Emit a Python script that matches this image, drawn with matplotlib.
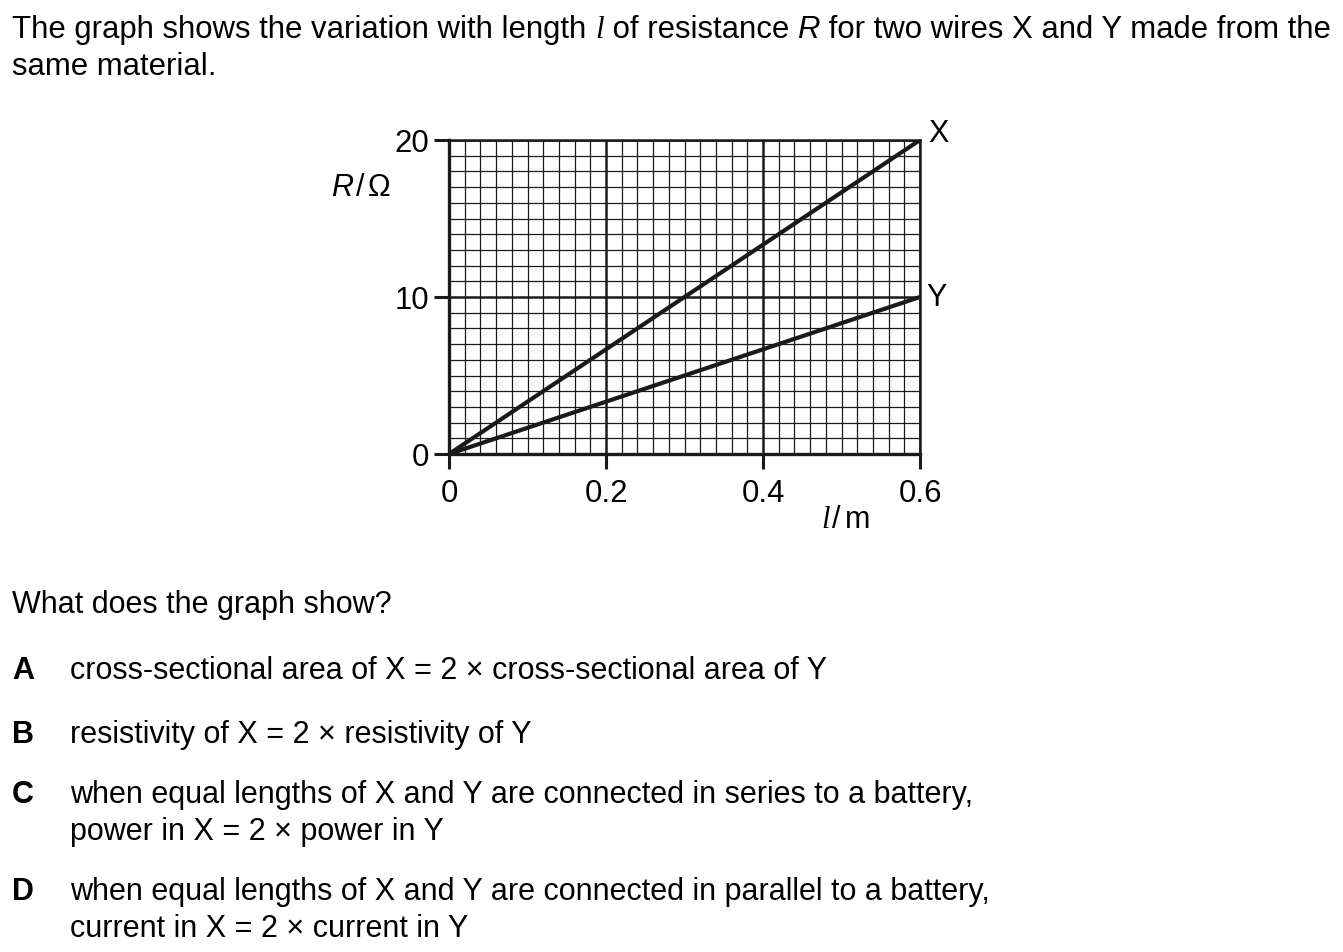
import numpy as np
import matplotlib.pyplot as plt
from matplotlib.ticker import MultipleLocator

# wire data: length l (m) and resistance R (ohm)
length = [0.0, 0.6]
r_x = [0.0, 20.0]
r_y = [0.0, 10.0]
xticks = [0, 0.2, 0.4, 0.6]
xtick_labels = ['0', '0.2', '0.4', '0.6']
yticks = [0, 10, 20]

W, H = 1343, 952
FS = 22
plt.rcParams['font.family'] = ['Liberation Sans', 'DejaVu Sans']
fig = plt.figure(figsize=(W/100, H/100), dpi=100)
ax = fig.add_axes([449/W, 1-454/H, 471/W, 314/H])

ax.plot(length, r_x, color='#1a1a1a', lw=3, solid_capstyle='butt', zorder=5)
ax.plot(length, r_y, color='#1a1a1a', lw=3, solid_capstyle='butt', zorder=5)

ax.set_xlim(0, 0.6)
ax.set_ylim(0, 20)
ax.set_xticks(xticks)
ax.set_xticklabels(xtick_labels)
ax.set_yticks(yticks)
ax.xaxis.set_minor_locator(MultipleLocator(0.02))
ax.yaxis.set_minor_locator(MultipleLocator(1))
ax.grid(which='major', color='#1a1a1a', lw=1.8)
ax.grid(which='minor', color='#1a1a1a', lw=0.9)
ax.tick_params(which='major', direction='out', length=11, width=2.2, labelsize=22.4, pad=3, color='#1a1a1a')
ax.tick_params(axis='x', which='major', pad=7)
ax.tick_params(which='minor', length=0)
for s in ax.spines.values():
    s.set_linewidth(1.8)
    s.set_color('#1a1a1a')
ax.spines['left'].set_linewidth(2.4)
ax.spines['bottom'].set_linewidth(2.4)

renderer = fig.canvas.get_renderer()


def line(x, y, parts, size=FS):
    # draw text segments one after another on a common baseline
    for p in parts:
        s, kw = p[0], p[1]
        gap = p[2] if len(p) > 2 else 0
        t = fig.text(x/W, 1-y/H, s, fontsize=size, va='baseline', ha='left', **kw)
        x += t.get_window_extent(renderer).width + gap


N = {}
I = {'style': 'italic'}
L = {'family': 'Liberation Serif', 'style': 'italic'}
B = {'weight': 'bold'}

line(12, 38, [("The graph shows the variation with length ", N), ("l", L),
              (" of resistance ", N), ("R", I),
              (" for two wires X and Y made from the", N)], size=22.4)
line(12, 75, [("same material.", N)], size=22.4)

line(331, 196, [("R", I, 3), ("/", N, 3), ("\u03a9", N)])
line(821, 528, [("l", L, 3), ("/", N, 4), ("m", N)])
line(928, 142, [("X", N)])
line(926, 306, [("Y", N)])

line(12, 613, [("What does the graph show?", N)])
line(12, 679, [("A", B)])
line(70, 679, [("cross-sectional area of X = 2 \u00d7 cross-sectional area of Y", N)])
line(12, 743, [("B", B)])
line(70, 743, [("resistivity of X = 2 \u00d7 resistivity of Y", N)])
line(12, 803, [("C", B)])
line(70, 803, [("when equal lengths of X and Y are connected in series to a battery,", N)])
line(70, 840, [("power in X = 2 \u00d7 power in Y", N)])
line(12, 900, [("D", B)])
line(70, 900, [("when equal lengths of X and Y are connected in parallel to a battery,", N)])
line(70, 937, [("current in X = 2 \u00d7 current in Y", N)])

fig.savefig('out.png', dpi=100)
